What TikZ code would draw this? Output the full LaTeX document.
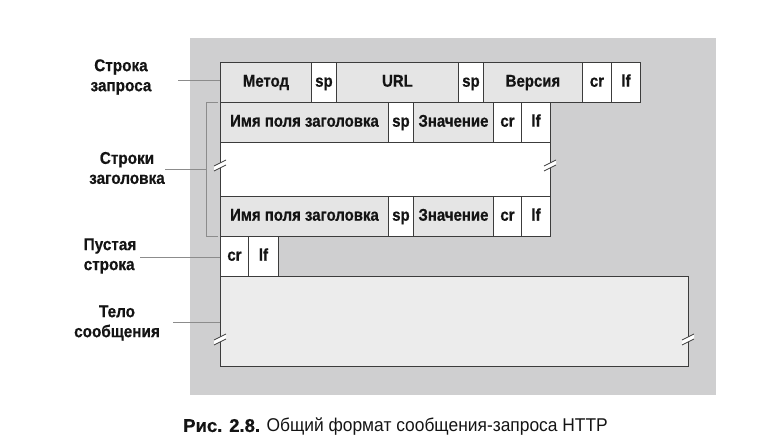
\documentclass[tikz,border=0pt]{standalone}
\usepackage{fontspec}
\setmainfont{Liberation Sans}
\newfontfamily\cellfont[FakeStretch=0.88,FakeBold=0.6]{Liberation Sans Bold}
\newfontfamily\lblfont[FakeStretch=0.9,FakeBold=0.6]{Liberation Sans Bold}
\newfontfamily\capfont[FakeStretch=0.94]{Liberation Sans}
\newfontfamily\capbold[FakeBold=0.5]{Liberation Sans Bold}
\definecolor{bgc}{RGB}{207,207,208}
\definecolor{cellg}{RGB}{229,229,229}
\definecolor{bodyc}{RGB}{236,236,236}
\definecolor{linec}{RGB}{60,60,60}
\definecolor{leadc}{RGB}{140,140,140}
\definecolor{txtc}{RGB}{20,20,20}
\begin{document}
\begin{tikzpicture}[x=1pt,y=-1pt,
  cell/.style={draw=linec, line width=0.9pt, inner sep=0pt, anchor=north west,
    minimum height=40pt, text height=12pt, text depth=3.5pt, text=txtc,
    font=\cellfont\fontsize{17}{18}\selectfont},
  gcell/.style={cell, fill=cellg},
  wcell/.style={cell, fill=white},
  lbl/.style={align=center, text=txtc, font=\lblfont\fontsize{17}{20}\selectfont},
  lead/.style={draw=leadc, line width=0.8pt},
  brk/.pic={\fill[white] (-6,0)--(6,-6)--(6,-1)--(-6,5)--cycle;
            \draw[linec,line width=0.8pt] (-6,0)--(6,-6) (-6,5)--(6,-1);}
]
\useasboundingbox (0,0) rectangle (783,446);
\node[fill=bgc, inner sep=0pt, minimum width=526pt, minimum height=357pt, anchor=north west] (frame) at (190,38) {};

% request line
\node[gcell, minimum width=91pt]  (meth) at (220,62) {Метод};
\node[wcell, minimum width=25pt]  (sp1)  at (311,62) {sp};
\node[gcell, minimum width=122pt] (url)  at (336,62) {URL};
\node[wcell, minimum width=25pt]  (sp2)  at (458,62) {sp};
\node[gcell, minimum width=99pt]  (ver)  at (483,62) {Версия};
\node[wcell, minimum width=29pt]  (cr0)  at (582,62) {cr};
\node[wcell, minimum width=29pt]  (lf0)  at (611,62) {lf};

% header line 1
\node[gcell, minimum width=168pt] (hn1) at (220,102) {Имя поля заголовка};
\node[wcell, minimum width=25pt]  (hs1) at (388,102) {sp};
\node[gcell, minimum width=80pt]  (hv1) at (413,102) {Значение};
\node[wcell, minimum width=28pt]  (hc1) at (493,102) {cr};
\node[wcell, minimum width=29pt]  (hl1) at (521,102) {lf};

% gap
\node[wcell, minimum width=330pt, minimum height=54pt] (gap) at (220,142) {};

% header line 2
\node[gcell, minimum width=168pt] (hn2) at (220,196) {Имя поля заголовка};
\node[wcell, minimum width=25pt]  (hs2) at (388,196) {sp};
\node[gcell, minimum width=80pt]  (hv2) at (413,196) {Значение};
\node[wcell, minimum width=28pt]  (hc2) at (493,196) {cr};
\node[wcell, minimum width=29pt]  (hl2) at (521,196) {lf};

% empty line
\node[wcell, minimum width=28pt] (ecr) at (220,236) {cr};
\node[wcell, minimum width=30pt] (elf) at (248,236) {lf};

% body
\node[cell, fill=bodyc, minimum width=468pt, minimum height=90pt] (body) at (220,276) {};

% break marks
\pic at (220,166) {brk};
\pic at (550,166) {brk};
\pic at (220,340) {brk};
\pic at (688,340) {brk};

% bracket for header lines
\coordinate (bt) at (206,102);
\coordinate (bb) at (206,236);
\coordinate (bm) at (206,169);
\draw[lead] (218,102) -- (bt) -- (bb) -- (218,236);

% labels
\node[lbl] (Lreq)  at (121,77)  {Строка\\запроса};
\node[lbl] (Lhdr)  at (127,168) {Строки\\заголовка};
\node[lbl, align=left] (Lemp)  at (110,256) {Пустая\\строка};
\node[lbl] (Lbody) at (117,323) {Тело\\сообщения};

\coordinate (c1) at (178,80);
\coordinate (c2) at (165,169);
\coordinate (c3) at (140,257);
\coordinate (c4) at (173,322);
\draw[lead] (c1) -- (meth.west |- c1);
\draw[lead] (c2) -- (bm);
\draw[lead] (c3) -- (ecr.west |- c3);
\draw[lead] (c4) -- (body.west |- c4);

% caption
\node[text=txtc, font=\capfont\fontsize{18.5}{20}\selectfont] (cap) at (395.5,427)
  {{\capbold Рис. 2.8.} Общий формат сообщения-запроса HTTP};
\end{tikzpicture}
\end{document}
